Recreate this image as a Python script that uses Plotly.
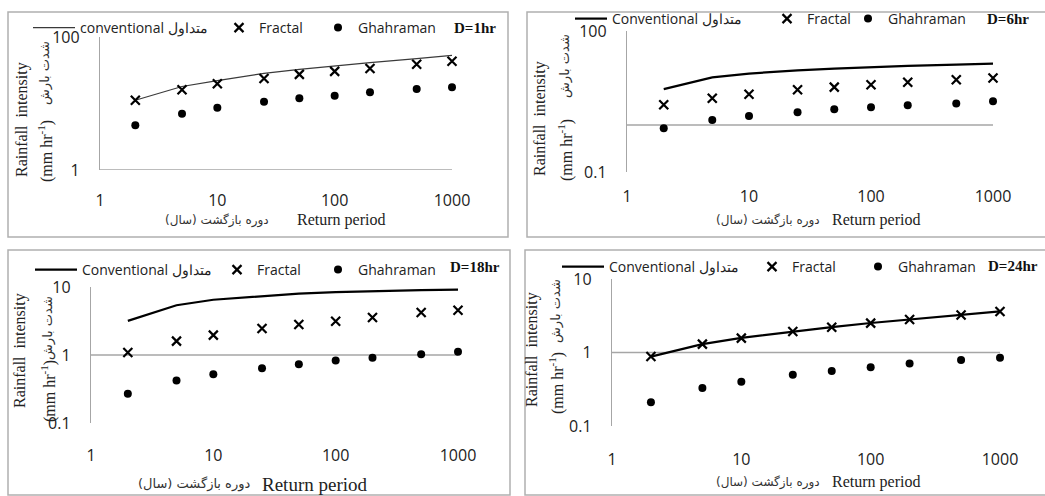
import plotly.graph_objects as go

# ---------------- data ----------------
return_period = [2, 5, 10, 25, 50, 100, 200, 500, 1000]

conv_1hr = [11.2, 18.0, 22.1, 28.4, 32.5, 36.9, 41.3, 47.3, 53.0]
fractal_1hr = [11.2, 16.1, 19.8, 23.7, 27.4, 30.4, 33.7, 39.0, 43.2]
ghahraman_1hr = [4.7, 7.0, 8.6, 10.6, 12.0, 13.1, 14.7, 16.5, 17.6]

conv_6hr = [5.8, 10.3, 12.4, 14.6, 15.9, 17.2, 18.1, 19.3, 20.3]
fractal_6hr = [2.7, 3.7, 4.5, 5.6, 6.4, 7.2, 8.1, 9.2, 10.0]
ghahraman_6hr = [0.85, 1.28, 1.56, 1.87, 2.17, 2.39, 2.64, 2.86, 3.21]

conv_18hr = [3.18, 5.4, 6.5, 7.4, 8.0, 8.4, 8.7, 9.0, 9.15]
fractal_18hr = [1.09, 1.6, 1.96, 2.46, 2.81, 3.14, 3.56, 4.21, 4.56]
ghahraman_18hr = [0.27, 0.42, 0.52, 0.64, 0.73, 0.83, 0.91, 1.03, 1.12]

conv_24hr = [0.88, 1.3, 1.58, 1.93, 2.22, 2.52, 2.83, 3.24, 3.63]
fractal_24hr = [0.88, 1.3, 1.57, 1.93, 2.21, 2.51, 2.82, 3.23, 3.62]
ghahraman_24hr = [0.21, 0.33, 0.40, 0.50, 0.56, 0.63, 0.71, 0.79, 0.85]

duration_labels = ["D=1hr", "D=6hr", "D=18hr", "D=24hr"]
conv_names = ["conventional متداول", "Conventional متداول", "Conventional متداول", "Conventional متداول"]
fractal_name = "Fractal"
ghahraman_name = "Ghahraman"
x_tick_vals = [1, 10, 100, 1000]
x_tick_text = ["1", "10", "100", "1000"]
y_tick_vals = [[1, 100], [0.1, 100], [0.1, 1, 10], [0.1, 1, 10]]
y_tick_text = [["1", "100"], ["0.1", "100"], ["0.1", "1", "10"], ["0.1", "1", "10"]]
y_title_en = "Rainfall  intensity"
y_title_unit = "(mm hr<sup>-1</sup>)"
y_title_fa = "شدت بارش"
x_title_en = "Return period"
x_title_fa = "\u200fدوره بازگشت (سال)\u200f"
axis_cross = 1

series = [
    (conv_1hr, fractal_1hr, ghahraman_1hr),
    (conv_6hr, fractal_6hr, ghahraman_6hr),
    (conv_18hr, fractal_18hr, ghahraman_18hr),
    (conv_24hr, fractal_24hr, ghahraman_24hr),
]

# ---------------- layout geometry (pixels) ----------------
W, H = 1045, 496
def fx(p):
    return p / W
def fy(p):
    return 1 - p / H

panels = [
    dict(xd=(100, 452), yd=(170, 37), yr=(0, 2), box=(8, 12, 508, 237),
         conv_w=1.2, conv_c="#3a3a3a", xstand=19, line_iw=42,
         leg_y=28, leg_x=(33, 239, 338), dlab=(498, 28),
         yt_en=(22, 120), yt_unit=(45, 151), yt_fa=(45, 73),
         xt_fa=(271, 220), xt_en=(295, 220), xt_size=(12, 16)),
    dict(xd=(627, 993), yd=(172, 31), yr=(-1, 2), box=(527, 12, 1060, 237),
         conv_w=2.2, conv_c="#000000", xstand=13, line_iw=32,
         leg_y=19, leg_x=(575, 787, 868), dlab=(1031, 19),
         yt_en=(540, 119), yt_unit=(565, 150), yt_fa=(565, 66),
         xt_fa=(822, 220), xt_en=(830, 220), xt_size=(12, 16)),
    dict(xd=(91, 458), yd=(423, 287), yr=(-1, 1), box=(8, 250, 510, 495),
         conv_w=2.2, conv_c="#000000", xstand=21, line_iw=42,
         leg_y=270, leg_x=(35, 237, 338), dlab=(502, 267),
         yt_en=(20, 351), yt_unit=(48, 391), yt_fa=(48, 328),
         xt_fa=(252, 484), xt_en=(260, 484), xt_size=(13, 19)),
    dict(xd=(612, 1000), yd=(426, 279), yr=(-1, 1), box=(525, 250, 1060, 495),
         conv_w=2.2, conv_c="#000000", xstand=22, line_iw=42,
         leg_y=267, leg_x=(562, 772, 878), dlab=(1040, 266),
         yt_en=(532, 350), yt_unit=(556, 383), yt_fa=(556, 311),
         xt_fa=(822, 482), xt_en=(830, 482), xt_size=(12, 16)),
]

TICK_FONT = dict(family="Open Sans", size=16, color="#222222")
LEG_FONT = dict(family="Open Sans", size=14, color="#222222")
SERIF = "Liberation Serif"
FA_FONT = "DejaVu Sans"
AXIS_C = "#a6a6a6"

fig = go.Figure()
layout = dict(width=W, height=H, margin=dict(l=0, r=0, t=0, b=0, autoexpand=False),
              paper_bgcolor="white", plot_bgcolor="white", showlegend=True)
shapes, annotations = [], []

def legname(k):
    return "legend" if k == 1 else f"legend{k}"

for i, p in enumerate(panels):
    n = i + 1
    xa = "x" if n == 1 else f"x{n}"
    ya = "y" if n == 1 else f"y{n}"
    xkey = "xaxis" if n == 1 else f"xaxis{n}"
    ykey = "yaxis" if n == 1 else f"yaxis{n}"
    conv, frac, ghah = series[i]

    # axis crossing line at y = 1
    fig.add_trace(go.Scatter(x=[x_tick_vals[0], x_tick_vals[-1]], y=[axis_cross, axis_cross],
                             mode="lines", line=dict(color=AXIS_C, width=1.4),
                             xaxis=xa, yaxis=ya, showlegend=False, hoverinfo="skip"))

    k0 = i * 3 + 1
    fig.add_trace(go.Scatter(x=return_period, y=conv, mode="lines", name=conv_names[i],
                             line=dict(color=p["conv_c"], width=p["conv_w"]),
                             xaxis=xa, yaxis=ya, legend=legname(k0)))
    fig.add_trace(go.Scatter(x=return_period, y=frac, mode="markers", name=fractal_name,
                             marker=dict(symbol="x-thin-open", size=9, color="black",
                                         line=dict(width=2.2, color="black")),
                             xaxis=xa, yaxis=ya, legend=legname(k0 + 1), cliponaxis=False))
    fig.add_trace(go.Scatter(x=return_period, y=ghah, mode="markers", name=ghahraman_name,
                             marker=dict(symbol="circle", size=8, color="black"),
                             xaxis=xa, yaxis=ya, legend=legname(k0 + 2), cliponaxis=False))

    layout[xkey] = dict(type="log", range=[0, 3], domain=[fx(p["xd"][0]), fx(p["xd"][1])],
                        anchor=ya, showgrid=False, showline=False, zeroline=False,
                        tickvals=x_tick_vals, ticktext=x_tick_text, tickfont=TICK_FONT,
                        ticks="", ticklabelstandoff=p["xstand"])
    layout[ykey] = dict(type="log", range=list(p["yr"]), domain=[fy(p["yd"][0]), fy(p["yd"][1])],
                        anchor=xa, showgrid=False, showline=True, linecolor=AXIS_C, linewidth=1.4,
                        zeroline=False, tickvals=y_tick_vals[i], ticktext=y_tick_text[i],
                        tickfont=TICK_FONT, ticks="", ticklabelstandoff=16)

    # legends (one per item for exact placement)
    for j in range(3):
        xs = p["leg_x"][j] - (5 if j == 0 else 20)
        layout[legname(k0 + j)] = dict(x=fx(xs), y=fy(p["leg_y"]), xanchor="left", yanchor="middle",
                                       orientation="h", bgcolor="rgba(0,0,0,0)", borderwidth=0,
                                       font=LEG_FONT, itemwidth=p["line_iw"] if j == 0 else 30)

    # panel border
    x0, y0, x1, y1 = p["box"]
    shapes.append(dict(type="rect", xref="paper", yref="paper", x0=fx(x0), x1=fx(x1),
                       y0=fy(y0), y1=fy(y1), line=dict(color="#b0b0b0", width=1.5),
                       fillcolor="rgba(0,0,0,0)", layer="below"))

    # duration label
    annotations.append(dict(text=f"<b>{duration_labels[i]}</b>", xref="paper", yref="paper",
                            x=fx(p["dlab"][0]), y=fy(p["dlab"][1]), xanchor="right", yanchor="middle",
                            showarrow=False, font=dict(family=SERIF, size=15, color="#111")))
    # y title
    annotations.append(dict(text=y_title_en, xref="paper", yref="paper", textangle=-90,
                            x=fx(p["yt_en"][0]), y=fy(p["yt_en"][1]), xanchor="center", yanchor="middle",
                            showarrow=False, font=dict(family=SERIF, size=16, color="#222")))
    annotations.append(dict(text=y_title_unit, xref="paper", yref="paper", textangle=-90,
                            x=fx(p["yt_unit"][0]), y=fy(p["yt_unit"][1]), xanchor="center", yanchor="middle",
                            showarrow=False, font=dict(family=SERIF, size=16, color="#222")))
    annotations.append(dict(text=y_title_fa, xref="paper", yref="paper", textangle=-90,
                            x=fx(p["yt_fa"][0]), y=fy(p["yt_fa"][1]), xanchor="center", yanchor="middle",
                            showarrow=False, font=dict(family=FA_FONT, size=13, color="#333")))
    # x title
    annotations.append(dict(text=x_title_fa, xref="paper", yref="paper",
                            x=fx(p["xt_fa"][0]), y=fy(p["xt_fa"][1]), xanchor="right", yanchor="middle",
                            showarrow=False, font=dict(family=FA_FONT, size=p["xt_size"][0], color="#333")))
    annotations.append(dict(text=x_title_en, xref="paper", yref="paper",
                            x=fx(p["xt_en"][0]), y=fy(p["xt_en"][1]), xanchor="left", yanchor="middle",
                            showarrow=False, font=dict(family=SERIF, size=p["xt_size"][1], color="#222")))

layout["shapes"] = shapes
layout["annotations"] = annotations
fig.update_layout(**layout)
fig.write_html("out.html", config={"displayModeBar": False},
               post_script="document.body.style.margin='0px';")
